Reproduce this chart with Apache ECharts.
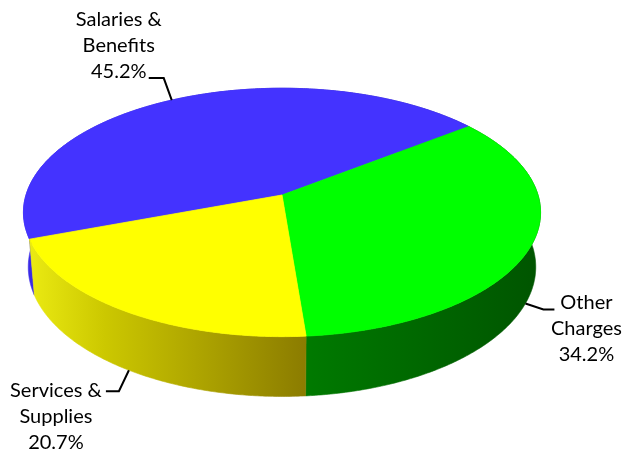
<!DOCTYPE html>
<html>
<head>
<meta charset="utf-8">
<script src="https://cdn.jsdelivr.net/npm/echarts@6/dist/echarts.min.js"></script>
<style>
  html, body { margin: 0; padding: 0; background: #ffffff; }
  #chart { width: 637px; height: 452px; }
</style>
</head>
<body>
<div id="chart"></div>
<script>
// Budget shares, drawn clockwise starting from the left edge of the pie
const categories = ['Salaries & Benefits', 'Other Charges', 'Services & Supplies'];
const values = [45.2, 34.2, 20.7];
const labelLines = [['Salaries &', 'Benefits'], ['Other', 'Charges'], ['Services &', 'Supplies']];
const percentLabels = ['45.2%', '34.2%', '20.7%'];

// Look of each slice: flat top colour plus a shaded side wall (left -> right)
const topColors = ['#4433FF', '#00FF00', '#FFFF00'];
const sideStops = [
  [[0, '#3B2BE8'], [1, '#1E1290']],
  [[0, '#00B000'], [0.53, '#007B00'], [1, '#005400']],
  [[0, '#EEEE14'], [0.16, '#CCC800'], [0.54, '#8C7D00'], [1, '#5A4A00']]
];

// Leader line / label layout, relative to the point where each leader meets its slice
const labelLayout = [
  { elbow: [-8, -22], tail: -23, text: [-53, -81] },
  { elbow: [18, 6], tail: 29, text: [61, -1] },
  { elbow: [-10, 21], tail: -23, text: [-73, 20] }
];

// 3D view of the pie: tilt, perspective and thickness
const view = { cx: 282, cy: 195, scale: 256, tilt: 28.4 * Math.PI / 180, dist: 6.27, depth: 0.245, startAngle: 200.2 };
const sinT = Math.sin(view.tilt), cosT = Math.cos(view.tilt);

function project(theta, z) {
  const X = Math.cos(theta), Y = Math.sin(theta);
  const v = Y * sinT + z * cosT;
  const w = Y * cosT - z * sinT;
  const s = view.dist / (view.dist + w);
  return [view.cx + view.scale * X * s, view.cy - view.scale * v * s];
}

function arcPoints(a0, a1, z) {
  const pts = [];
  const n = Math.max(2, Math.ceil(Math.abs(a1 - a0) / (Math.PI / 360)));
  for (let i = 0; i <= n; i++) pts.push(project(a0 + (a1 - a0) * i / n, z));
  return pts;
}

const total = values.reduce((a, b) => a + b, 0);
const xLeft = view.cx - view.scale * 1.02, xRight = view.cx + view.scale * 1.02;

function renderItem(params, api) {
  const idx = params.dataIndex;
  const val = api.value(0);
  let before = 0;
  for (let i = 0; i < idx; i++) before += values[i];
  const deg = Math.PI / 180;
  const a0 = (view.startAngle - before / total * 360) * deg;
  const a1 = a0 - val / total * 360 * deg;

  const topArc = arcPoints(a0, a1, 0);
  const botArc = arcPoints(a0, a1, -view.depth);
  const wall = topArc.concat(botArc.slice().reverse());
  const face = [[view.cx, view.cy]].concat(topArc);

  const grad = {
    type: 'linear', x: xLeft, y: 0, x2: xRight, y2: 0, global: true,
    colorStops: sideStops[idx].map(s => ({ offset: s[0], color: s[1] }))
  };

  const mid = (a0 + a1) / 2;
  const anchor = project(mid, Math.sin(mid) < 0 ? -view.depth : 0);
  const L = labelLayout[idx];
  const elbow = [anchor[0] + L.elbow[0], anchor[1] + L.elbow[1]];
  const tail = [anchor[0] + L.tail, elbow[1]];
  const tx = anchor[0] + L.text[0], ty = anchor[1] + L.text[1];
  const lines = labelLines[idx].concat([percentLabels[idx]]);

  const children = [
    { type: 'polygon', z2: 1, shape: { points: wall }, style: { fill: grad, stroke: grad, lineWidth: 0.6 } },
    { type: 'polygon', z2: 10, shape: { points: face }, style: { fill: topColors[idx], stroke: topColors[idx], lineWidth: 0.8 } },
    { type: 'polyline', z2: 20, shape: { points: [anchor, elbow, tail] }, style: { fill: null, stroke: '#000000', lineWidth: 2 } }
  ];
  lines.forEach((t, i) => {
    children.push({
      type: 'text', z2: 30,
      style: {
        text: t, x: tx, y: ty + i * 26, align: 'center', verticalAlign: 'middle',
        fill: '#000000', font: '20px Lato'
      }
    });
  });
  return { type: 'group', children };
}

const chart = echarts.init(document.getElementById('chart'), null, { renderer: 'canvas' });
chart.setOption({
  backgroundColor: '#ffffff',
  animation: false,
  series: [{
    type: 'custom',
    coordinateSystem: 'none',
    renderItem,
    data: values.map((v, i) => ({ name: categories[i], value: [v] }))
  }]
});
</script>
</body>
</html>
